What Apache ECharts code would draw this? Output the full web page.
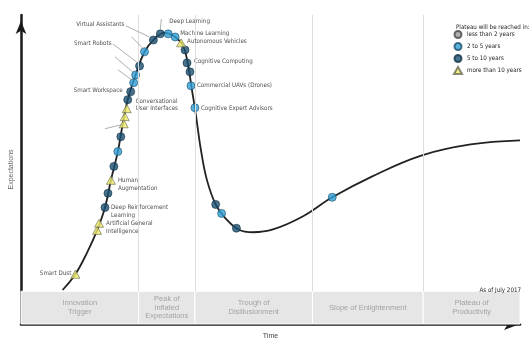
<!DOCTYPE html>
<html>
<head>
<meta charset="utf-8">
<script src="https://cdn.jsdelivr.net/npm/echarts@6/dist/echarts.min.js"></script>
<style>
  html, body { margin: 0; padding: 0; background: #fff; }
  #chart { width: 532px; height: 345px; }
</style>
</head>
<body>
<div id="chart"></div>
<script>
/* ============================================================
   Hype cycle (July 2017) — time vs expectations, both in %.
   ============================================================ */

/* ---- the curve ---- */
const curveX = [8.4, 11.0, 13.4, 15.4, 17.0, 18.2, 19.6, 20.6, 21.6, 23.2, 25.0, 26.8, 29.0, 31.2, 32.8, 33.8,
  34.6, 35.4, 36.4, 37.6, 39.4, 41.4, 44.0, 47.0, 51.0, 57.0, 63.0, 71.0, 81.0, 91.0, 101.0];
const curveY = [11.0, 16.1, 23.2, 30.3, 37.7, 46.5, 55.8, 64.8, 72.6, 80.6, 88.1, 91.9, 94.2, 92.9, 90.0, 83.9,
  75.8, 67.7, 56.5, 46.8, 38.7, 34.2, 30.6, 29.7, 30.6, 34.8, 41.0, 47.7, 54.5, 58.1, 59.4];

/* ---- phases ---- */
const phases = ["Innovation\nTrigger", "Peak of\nInflated\nExpectations", "Trough of\nDisillusionment",
  "Slope of Enlightenment", "Plateau of\nProductivity"];
const phaseBounds = [0, 23.8, 35.2, 59.0, 81.4, 101];

/* ---- technologies, by time to plateau ---- */
const soonX = [29.8, 31.2, 25.0, 23.2, 22.8, 34.4, 35.2, 19.6, 40.6, 63.0];
const soonY = [93.9, 92.9, 88.1, 80.6, 78.1, 77.1, 70.0, 55.8, 35.8, 41.0];
const soonNames = ["", "Machine Learning", "", "", "", "Commercial UAVs (Drones)", "Cognitive Expert Advisors", "", "", ""];

const midX = [26.8, 28.2, 33.2, 33.6, 34.2, 24.0, 22.2, 21.6, 20.2, 18.8, 17.6, 17.0, 39.4, 43.6];
const midY = [91.9, 93.9, 88.7, 84.5, 81.6, 83.5, 75.2, 72.6, 60.6, 51.0, 42.3, 37.7, 38.7, 31.0];
const midNames = ["Virtual Assistants", "Deep Learning", "", "Cognitive Computing", "", "Smart Robots",
  "Smart Workspace", "Conversational\nUser Interfaces", "", "", "", "Deep Reinforcement\nLearning", "", ""];

const farX = [32.4, 21.4, 21.0, 20.8, 18.2, 15.8, 15.4, 11.0];
const farY = [91.0, 69.7, 67.1, 64.8, 46.5, 32.6, 30.3, 16.1];
const farNames = ["Autonomous Vehicles", "", "", "", "Human\nAugmentation", "Artificial General\nIntelligence", "", "Smart Dust"];

const legendNames = ["less than 2 years", "2 to 5 years", "5 to 10 years", "more than 10 years"];

/* ---- layout: label offsets (px from the marker) and leader lines ---- */
const labelPos = {
  "Virtual Assistants": ["right", -29, -16],
  "Deep Learning": ["left", 9, -12],
  "Machine Learning": ["left", 5, -4],
  "Autonomous Vehicles": ["left", 6, -1],
  "Cognitive Computing": ["left", 7, -1],
  "Commercial UAVs (Drones)": ["left", 6, 0],
  "Cognitive Expert Advisors": ["left", 6, 1],
  "Smart Robots": ["right", -28, -23],
  "Smart Workspace": ["right", -8, -1],
  "Conversational\nUser Interfaces": ["left", 8, 5],
  "Human\nAugmentation": ["left", 7, 4],
  "Deep Reinforcement\nLearning": ["left", 6, 4],
  "Artificial General\nIntelligence": ["left", 7, 4],
  "Smart Dust": ["right", -4, -1],
};
const leaders = [
  [[21.2, 96.5], [26.0, 92.9]],
  [[22.4, 92.9], [24.8, 89.0]],
  [[18.6, 90.6], [23.4, 84.8]],
  [[19.0, 86.5], [22.6, 81.6]],
  [[19.6, 82.3], [22.4, 79.0]],
  [[17.0, 63.2], [20.4, 64.5]],
  [[28.4, 98.7], [28.2, 95.2]],
];
const bandTop = 10.6;

const NARROW = '"Liberation Sans Narrow", "DejaVu Sans Condensed", sans-serif';
const SANS = '"Liberation Sans", Arial, sans-serif';
const FS = 6.2;

function points(xs, ys, names) {
  return xs.map((x, i) => {
    const n = names[i];
    if (!n) return { value: [x, ys[i]] };
    const [align, dx, dy] = labelPos[n];
    return { value: [x, ys[i]], name: n, label: { show: true, align, offset: [dx, dy] } };
  });
}

const markerLabel = {
  show: false, position: "inside", verticalAlign: "middle", formatter: "{b}",
  fontFamily: NARROW, fontSize: FS, lineHeight: 7.5, color: "#222",
};

const chart = echarts.init(document.getElementById("chart"), null, { renderer: "canvas" });
chart.setOption({
  animation: false,
  textStyle: { fontFamily: NARROW },
  title: [
    { text: "Plateau will be reached in:", left: 451, top: 19,
      textStyle: { fontSize: FS, fontWeight: "normal", color: "#222", fontFamily: NARROW } },
    { text: "As of July 2017", right: 6, top: 282,
      textStyle: { fontSize: FS, fontWeight: "normal", color: "#222", fontFamily: NARROW } },
  ],
  legend: {
    orient: "vertical", left: 453, top: 30, itemWidth: 8, itemHeight: 7, itemGap: 3, padding: 0,
    textStyle: { fontSize: FS, lineHeight: 8, color: "#222", fontFamily: NARROW },
    data: legendNames.map((n, i) => ({ name: n, icon: i === 3 ? "triangle" : "circle" })),
  },
  grid: { left: 15, right: 12, top: 15, bottom: 20 },
  xAxis: {
    type: "value", min: 0, max: 101,
    name: "Time", nameLocation: "middle", nameGap: 9,
    nameTextStyle: { fontSize: 7, color: "#444", fontFamily: SANS },
    axisLine: { lineStyle: { color: "#1a1a1a", width: 2.5 }, symbol: ["none", "arrow"], symbolSize: [9, 16], symbolOffset: [0, 0] },
    axisTick: { show: false }, axisLabel: { show: false }, splitLine: { show: false },
  },
  yAxis: {
    type: "value", min: 0, max: 100,
    name: "Expectations", nameLocation: "middle", nameGap: 6, nameRotate: 90,
    nameTextStyle: { fontSize: 7, color: "#666", fontFamily: SANS },
    axisLine: { lineStyle: { color: "#1a1a1a", width: 2.5 }, symbol: ["none", "arrow"], symbolSize: [8, 13], symbolOffset: [0, -6] },
    axisTick: { show: false }, axisLabel: { show: false }, splitLine: { show: false },
  },
  series: [
    {
      name: "curve", type: "line", smooth: 0.4, symbol: "none", z: 2, silent: true,
      lineStyle: { color: "#222", width: 1.8 },
      data: curveX.map((x, i) => [x, curveY[i]]),
      markArea: {
        silent: true,
        itemStyle: { color: "#e6e6e6", borderColor: "#fff", borderWidth: 1 },
        label: { position: "inside", color: "#a3a3a3", fontSize: 7.5, lineHeight: 8.5, fontFamily: SANS },
        data: phases.map((p, i) => [
          { name: p, xAxis: phaseBounds[i], yAxis: 0 },
          { xAxis: phaseBounds[i + 1], yAxis: bandTop },
        ]),
      },
      markLine: {
        silent: true, symbol: "none", label: { show: false },
        lineStyle: { color: "#ddd", width: 1, type: "solid" },
        data: phaseBounds.slice(1, -1).map((v) => [{ coord: [v, bandTop] }, { coord: [v, 100] }]),
      },
    },
    {
      name: legendNames[0], type: "scatter", data: [],
      itemStyle: { color: "#9a9a9a", borderColor: "#444", borderWidth: 1 },
    },
    {
      name: legendNames[1], type: "scatter", symbol: "circle", symbolSize: 8, z: 4,
      itemStyle: { color: "#2f9fd6", borderColor: "#1d4f6d", borderWidth: 0.8 },
      label: markerLabel,
      data: points(soonX, soonY, soonNames),
    },
    {
      name: legendNames[2], type: "scatter", symbol: "circle", symbolSize: 8, z: 4,
      itemStyle: { color: "#1b5070", borderColor: "#123448", borderWidth: 0.8 },
      label: markerLabel,
      data: points(midX, midY, midNames),
      markLine: {
        silent: true, symbol: "none", label: { show: false },
        lineStyle: { color: "#9a9a9a", width: 0.8, type: "solid" },
        data: leaders.map(([a, b]) => [{ coord: a }, { coord: b }]),
      },
    },
    {
      name: legendNames[3], type: "scatter", symbol: "triangle", symbolSize: [9, 8], z: 5,
      itemStyle: { color: "#efeb6a", borderColor: "#6b6b50", borderWidth: 0.8 },
      label: markerLabel,
      data: points(farX, farY, farNames),
    },
  ],
});
</script>
</body>
</html>
